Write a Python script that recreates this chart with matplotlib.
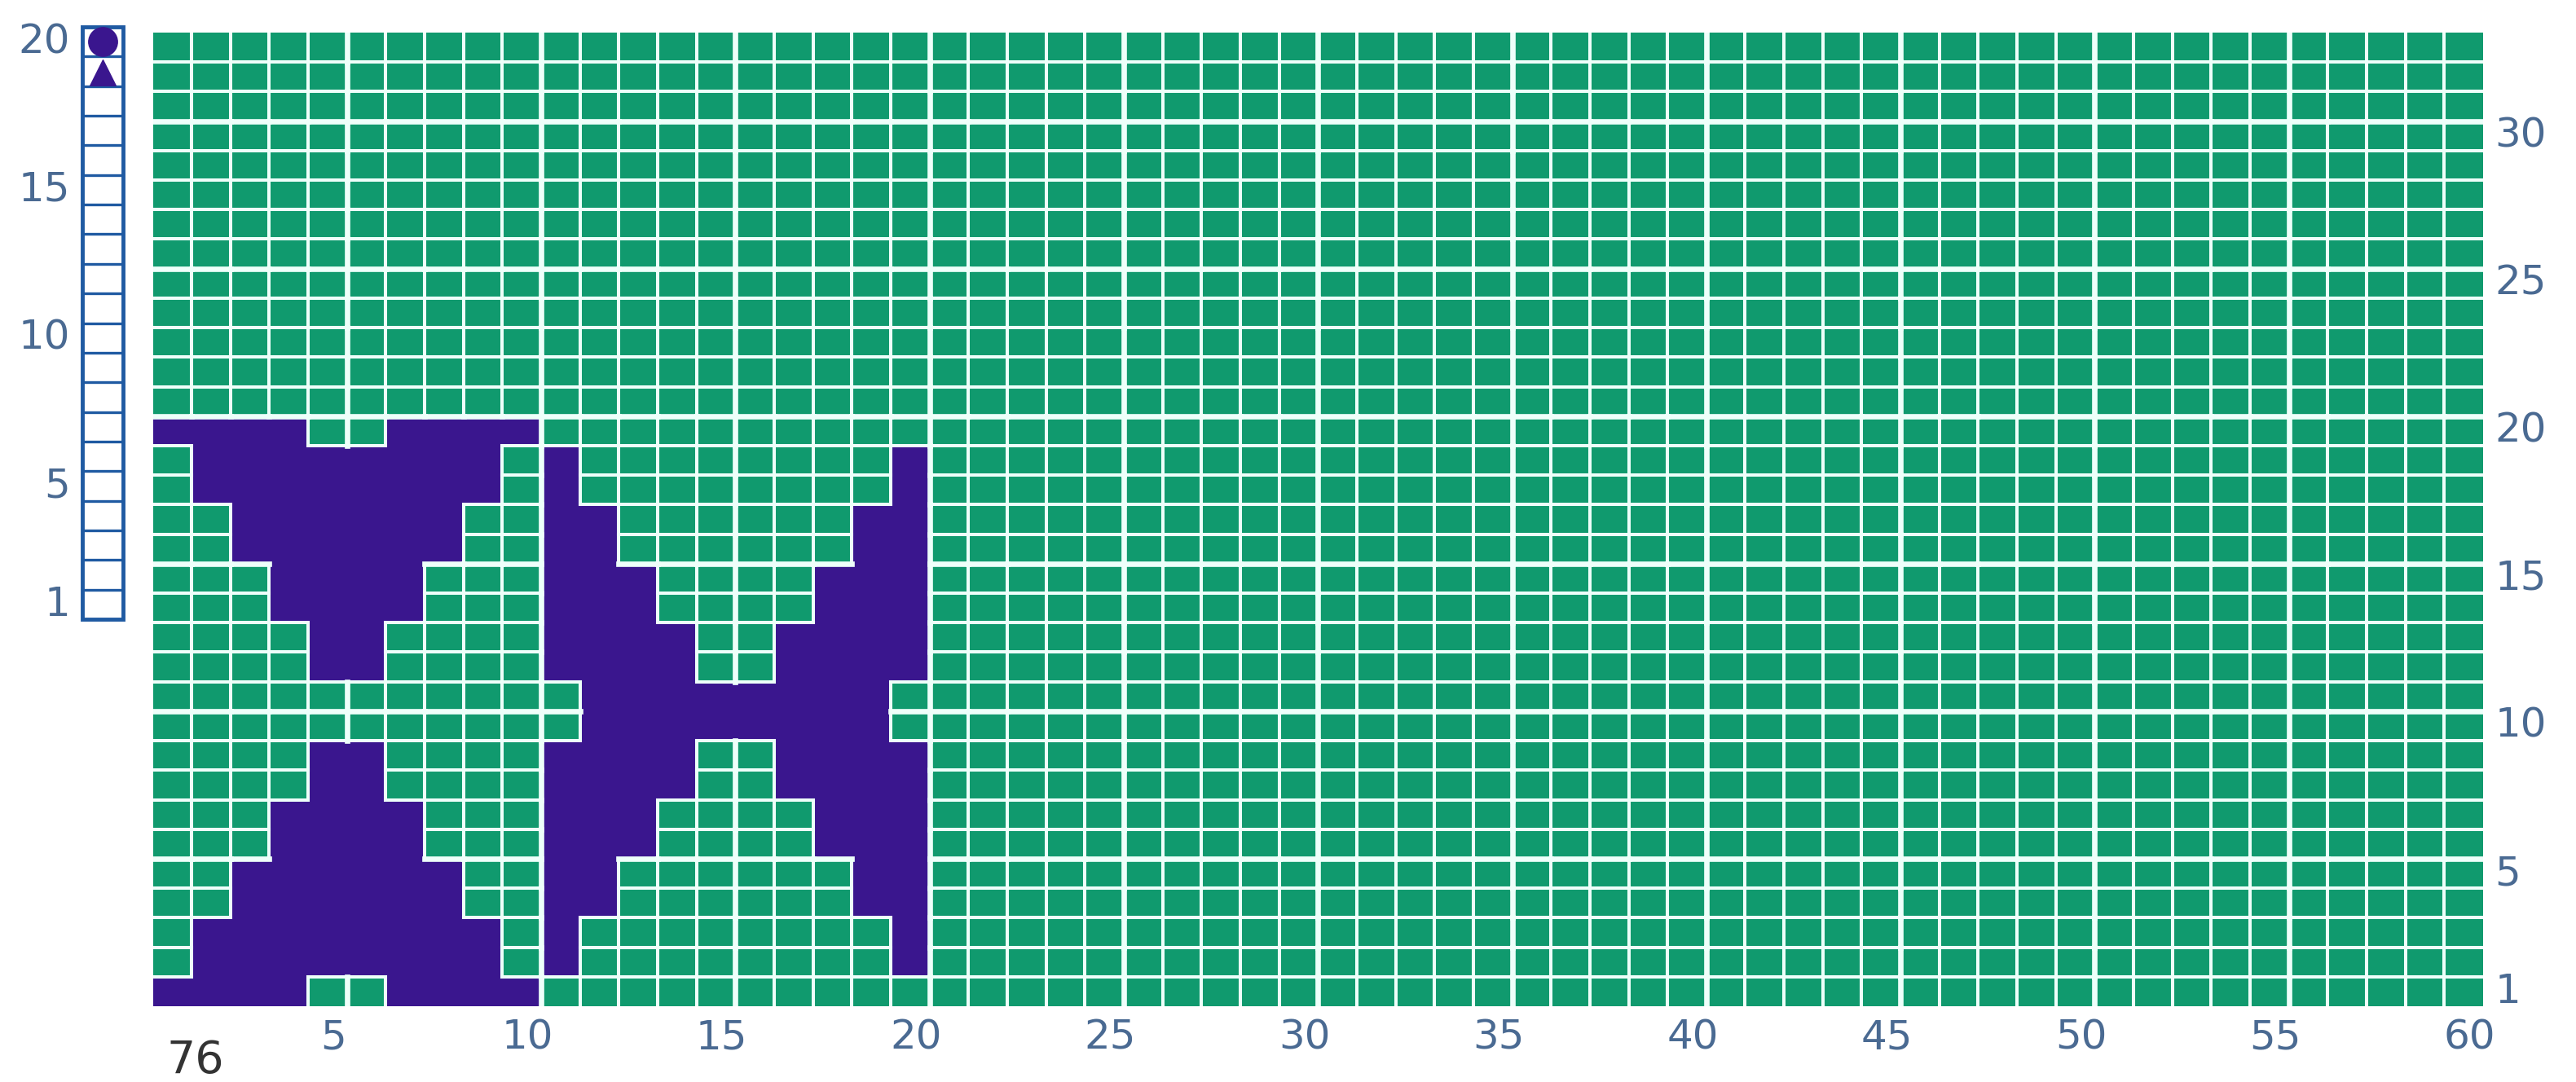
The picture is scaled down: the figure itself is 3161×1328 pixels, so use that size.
import numpy as np
import matplotlib
matplotlib.use('Agg')
import matplotlib.pyplot as plt
from matplotlib.colors import ListedColormap
from matplotlib.collections import LineCollection
from matplotlib.patches import Rectangle

# ------------------------------------------------------------
# Данные схемы: 60 петель x 33 ряда, узор в левом нижнем углу
# ------------------------------------------------------------
N_COLS = 60
N_ROWS = 33

# Ряды мотивов снизу вверх (ряд 1 ... ряд 20); P - фиолетовый, G - зелёный
motif_a = [
    "PPPPGGPPPP",
    "GPPPPPPPPG",
    "GPPPPPPPPG",
    "GGPPPPPPGG",
    "GGPPPPPPGG",
    "GGGPPPPGGG",
    "GGGPPPPGGG",
    "GGGGPPGGGG",
    "GGGGPPGGGG",
    "GGGGGGGGGG",
    "GGGGGGGGGG",
    "GGGGPPGGGG",
    "GGGGPPGGGG",
    "GGGPPPPGGG",
    "GGGPPPPGGG",
    "GGPPPPPPGG",
    "GGPPPPPPGG",
    "GPPPPPPPPG",
    "GPPPPPPPPG",
    "PPPPGGPPPP",
]
motif_b = [
    "GGGGGGGGGG",
    "PGGGGGGGGP",
    "PGGGGGGGGP",
    "PPGGGGGGPP",
    "PPGGGGGGPP",
    "PPPGGGGPPP",
    "PPPGGGGPPP",
    "PPPPGGPPPP",
    "PPPPGGPPPP",
    "GPPPPPPPPG",
    "GPPPPPPPPG",
    "PPPPGGPPPP",
    "PPPPGGPPPP",
    "PPPGGGGPPP",
    "PPPGGGGPPP",
    "PPGGGGGGPP",
    "PPGGGGGGPP",
    "PGGGGGGGGP",
    "PGGGGGGGGP",
    "GGGGGGGGGG",
]

col_labels = [5, 10, 15, 20, 25, 30, 35, 40, 45, 50, 55, 60]
row_labels = [1, 5, 10, 15, 20, 25, 30]
strip_labels = [1, 5, 10, 15, 20]
strip_rows = 20
page_number = "76"

# Цвета
GREEN = "#109a6e"
PURPLE = "#3a168e"
LINE = "#eefffa"
LABEL = "#4a6a92"
STRIP = "#1f5aa2"
FS = 36


def build_grid():
    grid = np.zeros((N_ROWS, N_COLS), dtype=int)
    for r, (a, b) in enumerate(zip(motif_a, motif_b)):
        for c, ch in enumerate(a + b):
            grid[r, c] = 1 if ch == "P" else 0
    return grid


def grid_lines(grid):
    thin, thick = [], []
    # вертикальные линии
    for k in range(1, N_COLS):
        for r in range(N_ROWS):
            if grid[r, k - 1] and grid[r, k]:
                continue
            seg = [(k, r), (k, r + 1)]
            (thick if k % 5 == 0 else thin).append(seg)
    # горизонтальные линии
    for k in range(1, N_ROWS):
        for c in range(N_COLS):
            if grid[k - 1, c] and grid[k, c]:
                continue
            seg = [(c, k), (c + 1, k)]
            (thick if k % 5 == 0 else thin).append(seg)
    return thin, thick


def main():
    grid = build_grid()

    fig = plt.figure(figsize=(31.61, 13.28), dpi=100)
    fig.patch.set_facecolor("white")

    # Основная сетка
    ax = fig.add_axes([187.5 / 3161, 93 / 1328, 2859.5 / 3161, 1195 / 1328])
    ax.pcolormesh(np.arange(N_COLS + 1), np.arange(N_ROWS + 1), grid,
                  cmap=ListedColormap([GREEN, PURPLE]), vmin=0, vmax=1)
    thin, thick = grid_lines(grid)
    ax.add_collection(LineCollection(thin, colors=LINE, linewidths=2.9,
                                     capstyle="projecting"))
    ax.add_collection(LineCollection(thick, colors=LINE, linewidths=4.8,
                                     capstyle="projecting"))
    ax.set_xlim(0, N_COLS)
    ax.set_ylim(0, N_ROWS)
    ax.axis("off")

    for n in col_labels:
        ax.text(n - 0.35, -1.05, str(n), ha="center", va="center",
                fontsize=FS, color=LABEL, clip_on=False)
    for n in row_labels:
        ax.text(N_COLS + 0.3, n - 0.5, str(n), ha="left", va="center",
                fontsize=FS, color=LABEL, clip_on=False)
    ax.text(1.1, -1.85, page_number, ha="center", va="center", fontsize=40,
            color="#333333", clip_on=False,
            family=["Liberation Sans Narrow", "DejaVu Sans"])

    # Полоска слева (20 рядов)
    ax2 = fig.add_axes([101 / 3161, 568 / 1328, 50 / 3161, 727 / 1328])
    ax2.set_xlim(0, 1)
    ax2.set_ylim(0, strip_rows)
    ax2.hlines(np.arange(1, strip_rows), 0, 1, colors=STRIP, linewidth=2.4)
    ax2.add_patch(Rectangle((0, 0), 1, strip_rows, fill=False,
                            edgecolor=STRIP, linewidth=3.5, clip_on=False))
    ax2.scatter([0.5], [strip_rows - 0.5], s=650, marker="o", color=PURPLE,
                zorder=3)
    ax2.scatter([0.5], [strip_rows - 1.55], s=520, marker="^", color=PURPLE,
                zorder=3)
    ax2.axis("off")
    for n in strip_labels:
        ax2.text(-0.3, n - 0.5, str(n), ha="right", va="center",
                 fontsize=FS, color=LABEL, clip_on=False)

    fig.savefig("out.png", dpi=100, facecolor="white")


if __name__ == "__main__":
    main()
